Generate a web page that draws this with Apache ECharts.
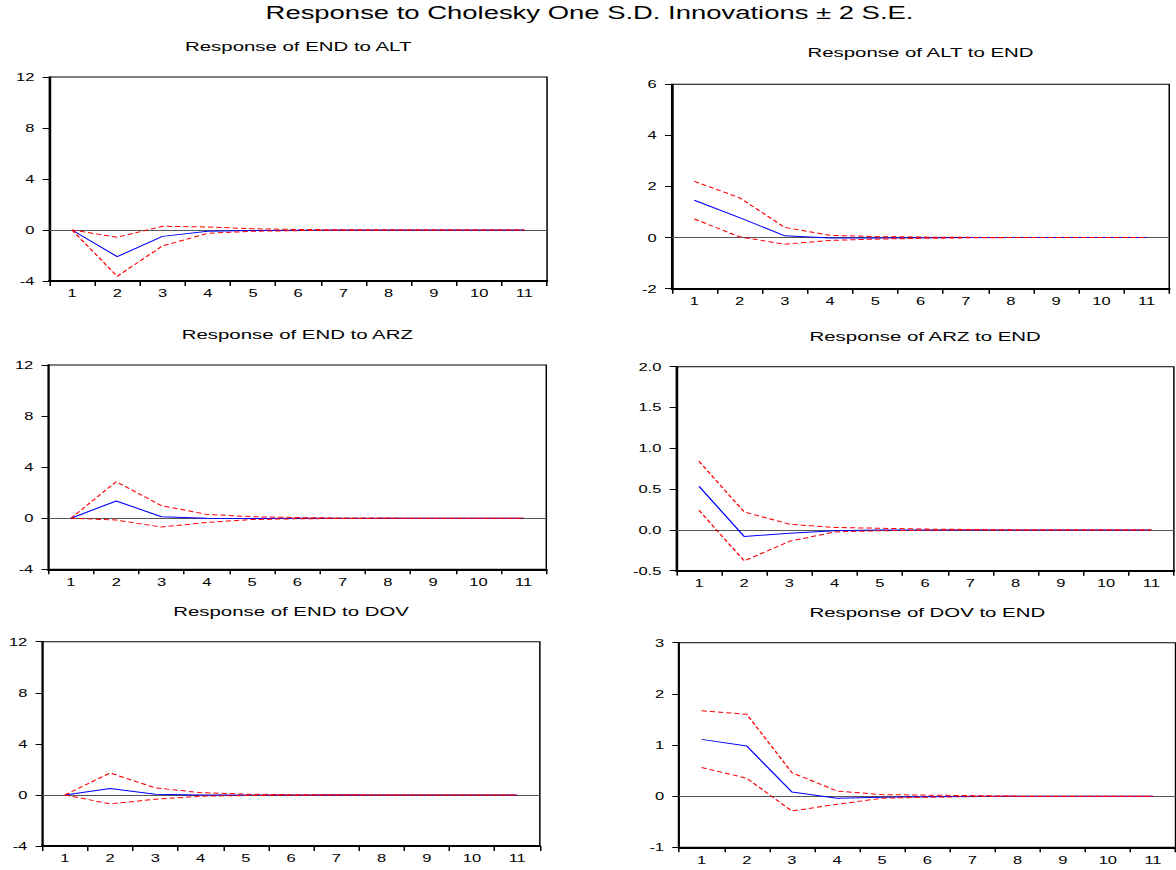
<!DOCTYPE html>
<html>
<head>
<meta charset="utf-8">
<title>Response to Cholesky One S.D. Innovations</title>
<script src="https://cdn.jsdelivr.net/npm/echarts@6/dist/echarts.min.js"></script>
<style>
    html, body { margin: 0; padding: 0; background: #fff; overflow: hidden; }
    /* the source graph is stretched sideways: draw it narrow, then widen it */
    #irf { width: 784px; height: 870px; transform: scaleX(1.5); transform-origin: 0 0; }
</style>
</head>
<body>
<div id="irf"></div>
<script>
var periods = ['1', '2', '3', '4', '5', '6', '7', '8', '9', '10', '11'];

// response of END to ALT
var endAltResp  = [0, -2.09, -0.50, -0.10, -0.03, -0.01, 0, 0, 0, 0, 0];
var endAltUpper = [0, -0.57, 0.29, 0.24, 0.10, 0.04, 0.02, 0.01, 0, 0, 0];
var endAltLower = [0, -3.63, -1.25, -0.26, -0.10, -0.05, -0.02, -0.01, 0, 0, 0];

// response of ALT to END
var altEndResp  = [1.46, 0.78, 0.07, -0.02, -0.02, -0.01, 0, 0, 0, 0, 0];
var altEndUpper = [2.20, 1.56, 0.40, 0.09, 0.04, 0.02, 0.01, 0, 0, 0, 0];
var altEndLower = [0.73, 0.03, -0.26, -0.11, -0.06, -0.03, -0.01, 0, 0, 0, 0];

// response of END to ARZ
var endArzResp  = [0, 1.35, 0.12, 0.00, -0.02, 0, 0, 0, 0, 0, 0];
var endArzUpper = [0, 2.86, 0.98, 0.30, 0.12, 0.05, 0.02, 0.01, 0, 0, 0];
var endArzLower = [0, -0.14, -0.69, -0.33, -0.10, -0.04, -0.02, -0.01, 0, 0, 0];

// response of ARZ to END
var arzEndResp  = [0.535, -0.08, -0.04, -0.01, 0, 0, 0, 0, 0, 0, 0];
var arzEndUpper = [0.84, 0.22, 0.07, 0.03, 0.02, 0.01, 0.005, 0, 0, 0, 0];
var arzEndLower = [0.24, -0.38, -0.14, -0.025, -0.01, -0.005, 0, 0, 0, 0, 0];

// response of END to DOV
var endDovResp  = [0, 0.50, 0.05, 0.00, -0.01, 0, 0, 0, 0, 0, 0];
var endDovUpper = [0, 1.72, 0.55, 0.18, 0.06, 0.02, 0.01, 0, 0, 0, 0];
var endDovLower = [0, -0.70, -0.34, -0.10, -0.05, -0.02, -0.01, 0, 0, 0, 0];

// response of DOV to END
var dovEndResp  = [1.11, 0.98, 0.08, -0.04, -0.02, -0.01, 0, 0, 0, 0, 0];
var dovEndUpper = [1.67, 1.60, 0.46, 0.10, 0.03, 0.02, 0.01, 0, 0, 0, 0];
var dovEndLower = [0.56, 0.35, -0.29, -0.16, -0.04, -0.02, -0.01, 0, 0, 0, 0];

var mainTitle = 'Response to Cholesky One S.D. Innovations ± 2 S.E.';
var panelTitles = ['Response of END to ALT', 'Response of ALT to END',
                   'Response of END to ARZ', 'Response of ARZ to END',
                   'Response of END to DOV', 'Response of DOV to END'];
var yMin  = [-4, -2, -4, -0.5, -4, -1];
var yMax  = [12, 6, 12, 2, 12, 3];
var yStep = [4, 2, 4, 0.5, 4, 1];
var yDecimals = [0, 0, 0, 1, 0, 0];

var panelData = [
    [endAltResp, endAltUpper, endAltLower],
    [altEndResp, altEndUpper, altEndLower],
    [endArzResp, endArzUpper, endArzLower],
    [arzEndResp, arzEndUpper, arzEndLower],
    [endDovResp, endDovUpper, endDovLower],
    [dovEndResp, dovEndUpper, dovEndLower]
];

// plot boxes in the narrow (unstretched) frame
var boxes = [
    { left: 32.9, top: 77, width: 331.8, height: 204 },
    { left: 447.8, top: 84.3, width: 331.7, height: 204.4 },
    { left: 32.2, top: 365, width: 332, height: 204.3 },
    { left: 450.9, top: 366.7, width: 331.7, height: 204 },
    { left: 28.2, top: 641.7, width: 331.7, height: 204.3 },
    { left: 452.7, top: 642.7, width: 331, height: 204.6 }
];
var titleY = [46, 52.5, 334, 336, 611, 612];

var fontName = 'Liberation Sans, Arial, sans-serif';

function buildOption() {
    var grids = [], xAxes = [], yAxes = [], series = [];
    var graphics = [{
        type: 'text',
        x: 393,
        y: 13,
        style: { text: mainTitle, fontSize: 18.3, fontFamily: fontName, fill: '#000', align: 'center', verticalAlign: 'middle' }
    }];

    boxes.forEach(function (b, i) {
        grids.push({
            left: b.left, top: b.top, width: b.width, height: b.height,
            show: true, borderColor: '#000', borderWidth: 1, backgroundColor: '#fff'
        });
        xAxes.push({
            type: 'category',
            gridIndex: i,
            data: periods,
            boundaryGap: true,
            axisLine: { onZero: false, lineStyle: { color: '#000', width: 1.8 } },
            axisTick: { show: true, interval: 0, length: 5, lineStyle: { color: '#000', width: 1 } },
            axisLabel: { interval: 0, margin: 7, color: '#000', fontSize: 11, fontFamily: fontName },
            splitLine: { show: false }
        });
        var dec = yDecimals[i];
        yAxes.push({
            type: 'value',
            gridIndex: i,
            min: yMin[i],
            max: yMax[i],
            interval: yStep[i],
            axisLine: { show: true, lineStyle: { color: '#000', width: 1.3 } },
            axisTick: { show: true, length: 4.5, lineStyle: { color: '#000', width: 1 } },
            axisLabel: {
                margin: 10, color: '#000', fontSize: 11, fontFamily: fontName,
                formatter: function (v) { return v.toFixed(dec); }
            },
            splitLine: { show: false }
        });

        var d = panelData[i];
        // zero line underneath the responses (markLine defaults to z 5)
        series.push({
            type: 'line', xAxisIndex: i, yAxisIndex: i,
            data: [], symbol: 'none', z: 1,
            markLine: {
                z: 1,
                silent: true, symbol: 'none', animation: false,
                label: { show: false },
                lineStyle: { color: '#555', width: 1, type: 'solid' },
                data: [{ yAxis: 0 }]
            }
        });
        series.push({
            type: 'line', xAxisIndex: i, yAxisIndex: i,
            data: d[0], symbol: 'none', z: 6,
            lineStyle: { color: '#0000ff', width: 1 }
        });
        series.push({
            type: 'line', xAxisIndex: i, yAxisIndex: i,
            data: d[1], symbol: 'none', z: 7,
            lineStyle: { color: '#ff0000', width: 1, type: [3.5, 2] }
        });
        series.push({
            type: 'line', xAxisIndex: i, yAxisIndex: i,
            data: d[2], symbol: 'none', z: 7,
            lineStyle: { color: '#ff0000', width: 1, type: [3.5, 2] }
        });

        graphics.push({
            type: 'text',
            x: b.left + b.width / 2,
            y: titleY[i],
            style: { text: panelTitles[i], fontSize: 13.6, fontFamily: fontName, fill: '#000', align: 'center', verticalAlign: 'middle' }
        });
    });

    return {
        animation: false,
        backgroundColor: '#fff',
        grid: grids,
        xAxis: xAxes,
        yAxis: yAxes,
        series: series,
        graphic: graphics
    };
}

var chart = echarts.init(document.getElementById('irf'), null, { renderer: 'svg' });
chart.setOption(buildOption());
</script>
</body>
</html>
